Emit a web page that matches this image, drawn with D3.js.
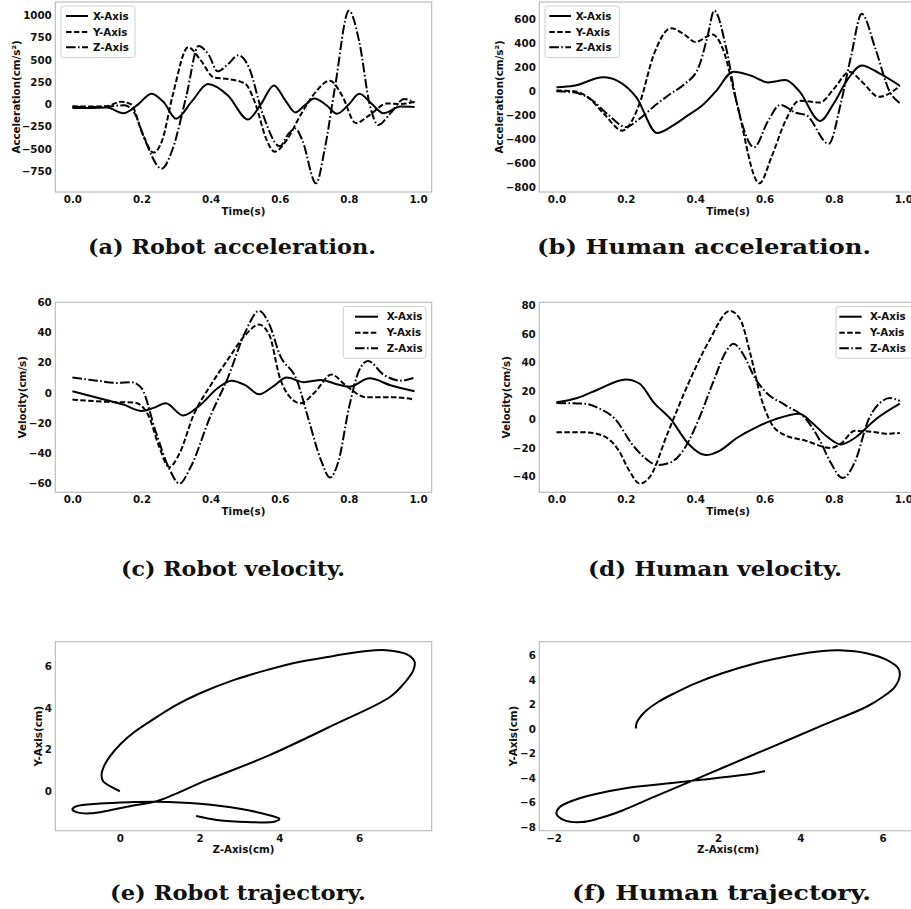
<!DOCTYPE html>
<html><head><meta charset="utf-8">
<script src="https://cdn.jsdelivr.net/npm/d3@7"></script>
<style>
body{margin:0;background:#fff;}
</style>
</head><body>
<script>
// ---------------- DATA ----------------
const seriesNames = ["X-Axis", "Y-Axis", "Z-Axis"];
const timeTicks = [0, 0.2, 0.4, 0.6, 0.8, 1.0];

// (a) Robot acceleration  [time(s), cm/s^2]
const robotAccX = [[0,-40],[0.05,-42],[0.1,-35],[0.147,-100],[0.19,0],[0.229,120],[0.265,20],[0.30,-160],[0.345,30],[0.392,228],[0.45,100],[0.508,-170],[0.545,0],[0.583,212],[0.615,50],[0.645,-90],[0.672,-10],[0.70,65],[0.735,-10],[0.765,-105],[0.80,0],[0.83,118],[0.865,10],[0.90,-100],[0.95,-25],[0.99,-30]];
const robotAccY = [[0,-25],[0.05,-25],[0.1,-20],[0.14,30],[0.17,0],[0.2,-300],[0.235,-540],[0.26,-400],[0.29,100],[0.335,640],[0.37,500],[0.41,300],[0.45,285],[0.5,230],[0.53,0],[0.56,-380],[0.585,-530],[0.62,-400],[0.66,-120],[0.70,120],[0.745,265],[0.78,100],[0.82,-210],[0.86,-120],[0.91,10],[0.95,5],[0.99,30]];
const robotAccZ = [[0,-25],[0.05,-30],[0.1,-25],[0.15,-10],[0.18,-100],[0.21,-400],[0.258,-720],[0.29,-500],[0.33,100],[0.365,655],[0.395,550],[0.42,370],[0.45,450],[0.48,550],[0.51,420],[0.55,-100],[0.60,-470],[0.625,-330],[0.645,-270],[0.665,-400],[0.705,-885],[0.73,-500],[0.76,200],[0.80,1050],[0.83,700],[0.86,0],[0.885,-230],[0.92,-100],[0.96,60],[0.99,20]];
const robotAccTicks = [-750, -500, -250, 0, 250, 500, 750, 1000];

// (b) Human acceleration
const humanAccX = [[0,32],[0.05,45],[0.135,115],[0.18,80],[0.23,-50],[0.29,-350],[0.34,-280],[0.38,-200],[0.42,-120],[0.46,0],[0.51,162],[0.56,130],[0.61,73],[0.66,92],[0.70,0],[0.76,-250],[0.80,-100],[0.84,100],[0.88,215],[0.93,150],[0.99,45]];
const humanAccY = [[0,5],[0.05,0],[0.09,-50],[0.14,-200],[0.19,-330],[0.24,-100],[0.28,300],[0.33,525],[0.37,470],[0.40,410],[0.45,472],[0.48,350],[0.52,-100],[0.585,-770],[0.62,-550],[0.66,-250],[0.70,-80],[0.76,-95],[0.80,20],[0.845,162],[0.88,80],[0.93,-47],[0.99,42]];
const humanAccZ = [[0,0],[0.05,-10],[0.1,-70],[0.15,-200],[0.20,-300],[0.24,-230],[0.28,-130],[0.33,-20],[0.37,60],[0.41,200],[0.435,450],[0.455,672],[0.49,350],[0.52,-100],[0.57,-468],[0.61,-250],[0.645,-115],[0.69,-180],[0.72,-200],[0.785,-440],[0.82,-100],[0.85,300],[0.88,645],[0.92,350],[0.96,0],[0.99,-100]];
const humanAccTicks = [-800, -600, -400, -200, 0, 200, 400, 600];

// (c) Robot velocity  [time(s), cm/s]
const robotVelX = [[0,1],[0.05,-2],[0.1,-5],[0.15,-8],[0.2,-12],[0.235,-10],[0.27,-7],[0.32,-15],[0.37,-8],[0.42,3],[0.46,8],[0.50,5],[0.54,-1],[0.58,4],[0.62,10],[0.67,7],[0.72,8.5],[0.76,6],[0.80,4],[0.86,9.5],[0.92,5],[0.99,1]];
const robotVelY = [[0,-4.5],[0.1,-6],[0.18,-6.5],[0.22,-15],[0.25,-35],[0.28,-49],[0.31,-40],[0.35,-15],[0.40,5],[0.45,22],[0.50,38],[0.54,45],[0.57,38],[0.60,10],[0.63,-3],[0.66,-7],[0.70,0],[0.75,12],[0.79,5],[0.85,-3],[0.93,-3],[0.99,-4.5]];
const robotVelZ = [[0,10],[0.07,8],[0.13,6.5],[0.17,7],[0.2,3],[0.24,-25],[0.28,-50],[0.31,-60],[0.34,-50],[0.40,-15],[0.45,10],[0.50,40],[0.54,54],[0.57,45],[0.60,25],[0.65,8],[0.68,-15],[0.72,-45],[0.745,-56],[0.77,-45],[0.80,-10],[0.83,15],[0.855,21],[0.90,12],[0.95,8],[0.99,10]];
const robotVelTicks = [-60, -40, -20, 0, 20, 40, 60];

// (d) Human velocity
const humanVelX = [[0,12],[0.06,15],[0.12,21],[0.2,28],[0.24,25],[0.28,12],[0.33,0],[0.38,-17],[0.43,-25],[0.47,-22],[0.52,-13],[0.58,-5],[0.63,0],[0.70,4],[0.74,-3],[0.78,-12],[0.82,-17.5],[0.86,-13],[0.92,0],[0.99,11]];
const humanVelY = [[0,-9],[0.08,-9],[0.13,-11],[0.18,-22],[0.21,-36],[0.24,-45],[0.27,-40],[0.32,-10],[0.38,25],[0.44,55],[0.50,76],[0.53,70],[0.56,45],[0.59,15],[0.62,-3],[0.65,-10],[0.72,-15],[0.79,-20],[0.82,-17],[0.86,-8],[0.92,-9],[0.95,-10],[0.99,-9.5]];
const humanVelZ = [[0,11.5],[0.08,11],[0.12,8],[0.17,0],[0.22,-18],[0.26,-28],[0.29,-32],[0.33,-30],[0.37,-20],[0.41,0],[0.45,25],[0.49,48],[0.51,53],[0.54,45],[0.57,30],[0.60,20],[0.66,10],[0.72,0],[0.76,-15],[0.79,-30],[0.825,-41],[0.86,-30],[0.90,0],[0.94,13],[0.96,15],[0.99,13]];
const humanVelTicks = [-40, -20, 0, 20, 40, 60, 80];

// (e) Robot trajectory  [Z(cm), Y(cm)]
const robotTraj = [[0,0],[-0.2,0.2],[-0.42,0.48],[-0.46,0.8],[-0.4,1.19],[-0.25,1.67],[0,2.23],[0.33,2.79],[0.75,3.34],[1.42,4.14],[2.01,4.7],[2.85,5.33],[3.68,5.81],[4.52,6.21],[5.36,6.49],[6.19,6.73],[6.69,6.76],[7.2,6.56],[7.39,6.21],[7.36,5.81],[7.16,5.25],[6.78,4.53],[5.36,3.18],[3.68,1.67],[2.18,0.53],[0.92,-0.48],[0.33,-0.68],[-0.25,-0.91],[-0.75,-1.06],[-1.09,-1.0],[-1.19,-0.87],[-1.09,-0.72],[-0.5,-0.59],[0.33,-0.52],[0.93,-0.5],[2.01,-0.6],[3.01,-0.84],[3.77,-1.16],[4.0,-1.32],[3.89,-1.45],[3.18,-1.48],[2.43,-1.38],[1.91,-1.19]];
const robotTrajZTicks = [0, 2, 4, 6];
const robotTrajYTicks = [0, 2, 4, 6];

// (f) Human trajectory
const humanTraj = [[0,0.06],[0.02,0.52],[0.11,1.01],[0.27,1.56],[0.55,2.24],[0.96,2.97],[1.45,3.74],[2.1,4.56],[2.92,5.38],[3.73,5.98],[4.55,6.39],[4.95,6.44],[5.61,6.2],[6.1,5.65],[6.38,4.97],[6.42,4.42],[6.3,3.46],[6.01,2.65],[5.61,1.83],[4.55,0.33],[3.33,-1.42],[2.1,-3.17],[1.45,-4.1],[0.47,-5.49],[-0.34,-6.66],[-0.91,-7.3],[-1.32,-7.59],[-1.73,-7.45],[-1.93,-6.91],[-1.85,-6.36],[-1.56,-5.87],[-1.0,-5.32],[-0.18,-4.78],[0.88,-4.4],[1.45,-4.18],[2.35,-3.85],[2.92,-3.58],[3.14,-3.41]];
const humanTrajZTicks = [-2, 0, 2, 4, 6];
const humanTrajYTicks = [-8, -6, -4, -2, 0, 2, 4, 6];

const captions = ["(a) Robot acceleration.", "(b) Human acceleration.", "(c) Robot velocity.", "(d) Human velocity.", "(e) Robot trajectory.", "(f) Human trajectory."];

// ---------------- DRAWING ----------------
const FS = 10.3;
const SANS = "DejaVu Sans";
const dashes = [null, "5.5,2.4", "9.6,2.4,1.6,2.4"];
const svg = d3.select("body").append("svg").attr("width", 911).attr("height", 909);

function padExtent(vals) {
  const [a, b] = d3.extent(vals);
  const m = (b - a) * 0.05;
  return [a - m, b + m];
}

function sansText(sel) {
  return sel.attr("font-family", SANS).attr("font-size", FS).attr("font-weight", "bold").attr("fill", "#111");
}

let clipId = 0;
function panel(cfg) {
  const [x0, y0, x1, y1] = cfg.frame;
  const all = cfg.series.flat();
  const x = d3.scaleLinear().domain(padExtent(all.map(d => d[0]))).range([x0, x1]);
  const y = d3.scaleLinear().domain(padExtent(all.map(d => d[1]))).range([y1, y0]);
  const g = svg.append("g");
  const id = "clip" + (clipId++);
  g.append("clipPath").attr("id", id).append("rect")
    .attr("x", x0).attr("y", y0).attr("width", x1 - x0).attr("height", y1 - y0);

  const style = sel => {
    sel.select(".domain").remove();
    sel.attr("font-family", null).attr("font-size", null);
    sansText(sel.selectAll("text"));
  };
  g.append("g").attr("transform", `translate(0,${y1})`)
    .call(d3.axisBottom(x).tickValues(cfg.xTicks).tickFormat(d3.format(cfg.xFmt)).tickSize(0).tickPadding(3.5))
    .call(style);
  g.append("g").attr("transform", `translate(${x0},0)`)
    .call(d3.axisLeft(y).tickValues(cfg.yTicks).tickFormat(d3.format("d")).tickSize(0).tickPadding(3.5))
    .call(style);

  g.append("rect").attr("x", x0).attr("y", y0).attr("width", x1 - x0).attr("height", y1 - y0)
    .attr("fill", "none").attr("stroke", "#b8b8b8").attr("stroke-width", 1.1);

  const line = d3.line().x(d => x(d[0])).y(d => y(d[1])).curve(cfg.curve);
  const lg = g.append("g").attr("clip-path", `url(#${id})`);
  cfg.series.forEach((s, i) => {
    lg.append("path").attr("d", line(s)).attr("fill", "none").attr("stroke", "#000")
      .attr("stroke-width", 2).attr("stroke-dasharray", cfg.series.length > 1 ? dashes[i] : null)
      .attr("stroke-linejoin", "round");
  });

  sansText(g.append("text")).attr("x", (x0 + x1) / 2).attr("y", y1 + 22.5).attr("text-anchor", "middle").text(cfg.xLabel);
  sansText(g.append("text")).attr("transform", `translate(${cfg.yLabelX},${(y0 + y1) / 2}) rotate(-90)`)
    .attr("dy", "0.36em").attr("text-anchor", "middle").text(cfg.yLabel);

  if (cfg.legend) {
    const L = cfg.legend;
    const lgd = g.append("g");
    lgd.append("rect").attr("x", L.box[0]).attr("y", L.box[1]).attr("width", L.box[2] - L.box[0])
      .attr("height", L.box[3] - L.box[1]).attr("rx", 2.5)
      .attr("fill", "#fff").attr("fill-opacity", 0.85).attr("stroke", "#cfcfcf").attr("stroke-width", 1);
    seriesNames.forEach((n, i) => {
      const ry = L.rows[i];
      lgd.append("line").attr("x1", L.sample[0]).attr("x2", L.sample[1]).attr("y1", ry).attr("y2", ry)
        .attr("stroke", "#000").attr("stroke-width", 2).attr("stroke-dasharray", dashes[i]);
      sansText(lgd.append("text")).attr("x", L.textX).attr("y", ry).attr("dy", "0.36em").text(n);
    });
  }

  const C = cfg.caption;
  svg.append("text").attr("x", C.x).attr("y", C.y)
    .attr("textLength", C.w).attr("lengthAdjust", "spacingAndGlyphs")
    .attr("font-family", "DejaVu Serif").attr("font-weight", "bold").attr("font-size", 20.5)
    .attr("fill", "#111").text(C.text);
}

const rowsTop = [16, 32, 47.3];
const rowsMid = [316.7, 332.7, 348.3];

panel({frame: [55.3, 2, 431.7, 192], series: [robotAccX, robotAccY, robotAccZ], curve: d3.curveMonotoneX,
  xTicks: timeTicks, xFmt: ".1f", yTicks: robotAccTicks, xLabel: "Time(s)", yLabel: "Acceleration(cm/s²)", yLabelX: 15.8,
  legend: {box: [61, 6, 135, 57.5], rows: rowsTop, sample: [66, 88], textX: 93},
  caption: {text: captions[0], x: 88, y: 254, w: 288}});
panel({frame: [539.3, 2, 917, 192], series: [humanAccX, humanAccY, humanAccZ], curve: d3.curveMonotoneX,
  xTicks: timeTicks, xFmt: ".1f", yTicks: humanAccTicks, xLabel: "Time(s)", yLabel: "Acceleration(cm/s²)", yLabelX: 499.7,
  legend: {box: [545, 6, 619.3, 57.5], rows: rowsTop, sample: [549.3, 571], textX: 575.7},
  caption: {text: captions[1], x: 537, y: 254, w: 334}});
panel({frame: [55.3, 302.3, 431.7, 492.3], series: [robotVelX, robotVelY, robotVelZ], curve: d3.curveMonotoneX,
  xTicks: timeTicks, xFmt: ".1f", yTicks: robotVelTicks, xLabel: "Time(s)", yLabel: "Velocity(cm/s)", yLabelX: 22,
  legend: {box: [343.3, 306.5, 426, 358.3], rows: rowsMid, sample: [355, 378], textX: 386.7},
  caption: {text: captions[2], x: 121, y: 576, w: 224}});
panel({frame: [539.3, 302.3, 917, 492.3], series: [humanVelX, humanVelY, humanVelZ], curve: d3.curveMonotoneX,
  xTicks: timeTicks, xFmt: ".1f", yTicks: humanVelTicks, xLabel: "Time(s)", yLabel: "Velocity(cm/s)", yLabelX: 506.3,
  legend: {box: [836, 306.5, 912, 358.3], rows: rowsMid, sample: [839.3, 861.7], textX: 870},
  caption: {text: captions[3], x: 588, y: 576, w: 254}});
panel({frame: [55.3, 641.7, 431.7, 830.7], series: [robotTraj], curve: d3.curveCatmullRom.alpha(0.5),
  xTicks: robotTrajZTicks, xFmt: "d", yTicks: robotTrajYTicks, xLabel: "Z-Axis(cm)", yLabel: "Y-Axis(cm)", yLabelX: 38.3,
  caption: {text: captions[4], x: 110, y: 900, w: 256}});
panel({frame: [539.3, 641.7, 917, 830.7], series: [humanTraj], curve: d3.curveCatmullRom.alpha(0.5),
  xTicks: humanTrajZTicks, xFmt: "d", yTicks: humanTrajYTicks, xLabel: "Z-Axis(cm)", yLabel: "Y-Axis(cm)", yLabelX: 513.3,
  caption: {text: captions[5], x: 572, y: 900, w: 299}});
</script>
</body></html>
